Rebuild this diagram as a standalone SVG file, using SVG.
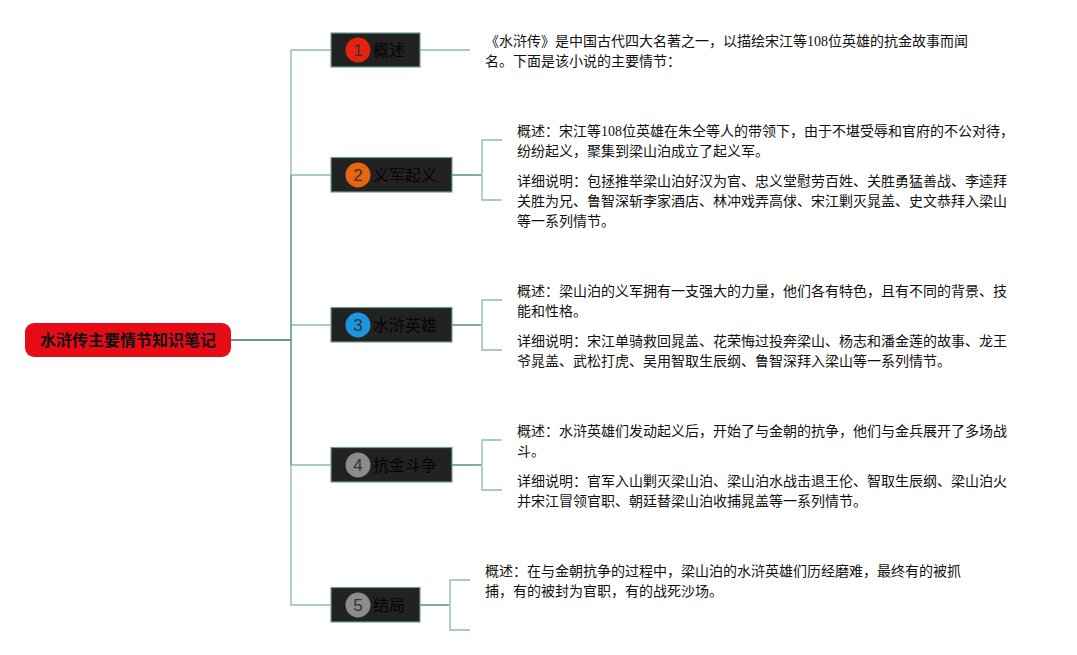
<svg xmlns="http://www.w3.org/2000/svg" width="1077" height="655" viewBox="0 0 1077 655">
<style>
text{font-family:"Liberation Serif","Noto Sans CJK SC",sans-serif;font-size:14px;fill:#111}
.l,.m,.d{fill:none;stroke-linejoin:round}
.l{stroke:#a9cbc0;stroke-width:1.8}
.m{stroke:#7fae9f;stroke-width:2}
.d{stroke:#6a9a8b;stroke-width:2}
.box{fill:#222;stroke:#6f9f90;stroke-width:1.2}
.t{font-family:"Noto Sans CJK SC",sans-serif;font-size:16px;fill:#050505}
.n{font-family:"Liberation Sans",sans-serif;font-size:17px;fill:#333;text-anchor:middle}
</style>
<rect width="1077" height="655" fill="#fff"/>
<g id="connectors">
<path class="l" d="M291 175V50H331M291 465V605H331M291 175H331M291 325H331M291 465H331"/>
<path class="m" d="M291 175V465"/>
<path class="d" d="M231 340H291"/>
<path class="l" d="M420 50H470"/>
<path class="m" d="M452 175H482M452 325H482M452 465H482M420 605H450"/>
<path class="l" d="M502 140H482V200H502M502 300H482V350H502M502 440H482V490H502M470 580H450V630H470"/>
</g>
<g id="root">
<rect x="25" y="323" width="206" height="34" rx="9" fill="#e60b17"/>
<text x="128" y="346" text-anchor="middle" style="font-family:'Noto Sans CJK SC',sans-serif;font-size:16px;font-weight:700">水浒传主要情节知识笔记</text>
</g>
<g id="node1">
<rect class="box" x="331" y="33" width="89" height="34"/>
<circle cx="358" cy="50" r="12.500" fill="#e5240f"/>
<text class="n" x="358" y="56">1</text>
<text class="t" x="373" y="56">概述</text>
</g>
<g id="node2">
<rect class="box" x="331" y="157.500" width="121" height="34.500"/>
<circle cx="358" cy="175" r="12.500" fill="#e8650f"/>
<text class="n" x="358" y="181">2</text>
<text class="t" x="373" y="181">义军起义</text>
</g>
<g id="node3">
<rect class="box" x="331" y="307.500" width="121" height="34.500"/>
<circle cx="358" cy="325" r="12.500" fill="#1a96e0"/>
<text class="n" x="358" y="331">3</text>
<text class="t" x="373" y="331">水浒英雄</text>
</g>
<g id="node4">
<rect class="box" x="331" y="447.500" width="121" height="34.500"/>
<circle cx="358" cy="465" r="12.500" fill="#8c8c8c"/>
<text class="n" x="358" y="471">4</text>
<text class="t" x="373" y="471">抗金斗争</text>
</g>
<g id="node5">
<rect class="box" x="331" y="587.500" width="89" height="34.500"/>
<circle cx="358" cy="605" r="12.500" fill="#8c8c8c"/>
<text class="n" x="358" y="611">5</text>
<text class="t" x="373" y="611">结局</text>
</g>
<g id="note1">
<text x="485" y="46">《水浒传》是中国古代四大名著之一，以描绘宋江等108位英雄的抗金故事而闻</text>
<text x="485" y="66">名。下面是该小说的主要情节：</text>
</g>
<g id="note2">
<text x="517" y="136">概述：宋江等108位英雄在朱仝等人的带领下，由于不堪受辱和官府的不公对待，</text>
<text x="517" y="156">纷纷起义，聚集到梁山泊成立了起义军。</text>
<text x="517" y="186">详细说明：包拯推举梁山泊好汉为官、忠义堂慰劳百姓、关胜勇猛善战、李逵拜</text>
<text x="517" y="206">关胜为兄、鲁智深斩李家酒店、林冲戏弄高俅、宋江剿灭晁盖、史文恭拜入梁山</text>
<text x="517" y="226">等一系列情节。</text>
</g>
<g id="note3">
<text x="517" y="296">概述：梁山泊的义军拥有一支强大的力量，他们各有特色，且有不同的背景、技</text>
<text x="517" y="316">能和性格。</text>
<text x="517" y="346">详细说明：宋江单骑救回晁盖、花荣悔过投奔梁山、杨志和潘金莲的故事、龙王</text>
<text x="517" y="366">爷晁盖、武松打虎、吴用智取生辰纲、鲁智深拜入梁山等一系列情节。</text>
</g>
<g id="note4">
<text x="517" y="436">概述：水浒英雄们发动起义后，开始了与金朝的抗争，他们与金兵展开了多场战</text>
<text x="517" y="456">斗。</text>
<text x="517" y="486">详细说明：官军入山剿灭梁山泊、梁山泊水战击退王伦、智取生辰纲、梁山泊火</text>
<text x="517" y="506">并宋江冒领官职、朝廷替梁山泊收捕晁盖等一系列情节。</text>
</g>
<g id="note5">
<text x="485" y="576">概述：在与金朝抗争的过程中，梁山泊的水浒英雄们历经磨难，最终有的被抓</text>
<text x="485" y="596">捕，有的被封为官职，有的战死沙场。</text>
</g>
</svg>
